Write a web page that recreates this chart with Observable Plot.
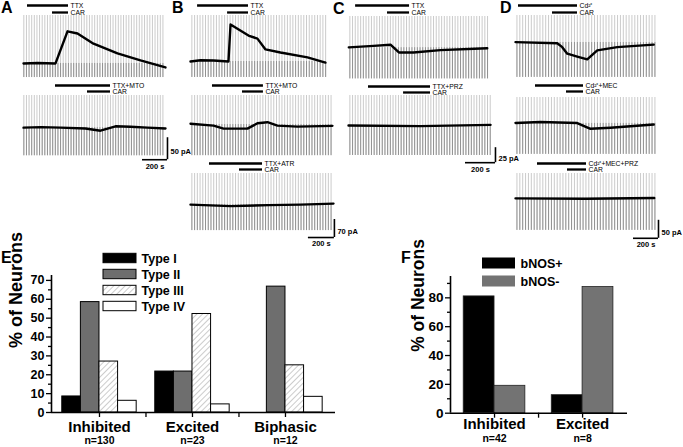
<!DOCTYPE html>
<html><head><meta charset="utf-8">
<script src="https://cdn.jsdelivr.net/npm/d3@7"></script>
<script src="https://cdn.jsdelivr.net/npm/@observablehq/plot@0.6"></script>
<style>
body{margin:0;background:#fff;}
#fig{position:relative;width:683px;height:447px;overflow:hidden;font-family:"Liberation Sans",Arial,sans-serif;background:#fff;}
.lbl{position:absolute;font-weight:bold;font-size:16px;line-height:16px;}
#fig svg text{font-family:"Liberation Sans",Arial,sans-serif;}
svg.boldtxt text{font-weight:bold;}
</style></head><body>
<div id="fig">
<svg width="0" height="0" style="position:absolute"><defs>
<pattern id="hatch" patternUnits="userSpaceOnUse" width="4" height="4" patternTransform="rotate(45)">
<rect width="4" height="4" fill="#fff"/><line x1="0" y1="0" x2="0" y2="4" stroke="#9a9a9a" stroke-width="1"/>
</pattern></defs></svg>
<div class="lbl" style="left:1px;top:0px">A</div>
<div class="lbl" style="left:172px;top:0px">B</div>
<div class="lbl" style="left:333px;top:1px">C</div>
<div class="lbl" style="left:500px;top:0px">D</div>
<div class="lbl" style="left:1px;top:250px">E</div>
<div class="lbl" style="left:401px;top:250px">F</div>
</div>
<script>
// ---------- Trace data (time s, current pA relative to baseline) ----------
const traceA1 = [[8,0],[120,1],[264,0],[360,73],[440,68],[568,45],[760,23],[944,7],[1144,-9]];
const traceA2 = [[8,0],[150,1],[304,0],[504,-2],[624,-7],[744,3],[864,2],[1000,0],[1144,-2]];
const traceB1 = [[0,0],[77,5],[177,4],[292,0],[308,144],[446,101],[515,89],[577,47],[692,35],[900,16],[1038,-4]];
const traceB2 = [[0,3],[177,-4],[254,-16],[438,-16],[515,5],[592,9],[669,-4],[823,-8],[1092,-5]];
const traceB3 = [[0,0],[308,-6],[600,-2],[846,0],[1100,4]];
const traceC1 = [[2,0.5],[167,3],[280,5],[336,-8],[433,-8],[613,-4],[925,-1]];
const traceC2 = [[0,0],[480,-1],[947,1]];
const traceD1 = [[0,1],[334,-2],[374,-13],[414,-31],[494,-39],[574,-47],[654,-22],[814,-13],[1106,-6]];
const traceD2 = [[0,1],[200,4],[494,1],[600,-15],[760,-12],[1106,-3]];
const traceD3 = [[0,0],[560,-1],[1110,1]];

// drug application bars: [label, start s, end s]
const drugsA1 = [["TTX",40,368],["CAR",240,368]];
const drugsA2 = [["TTX+MTO",264,704],["CAR",520,704]];
const drugsB1 = [["TTX",54,446],["CAR",285,446]];
const drugsB2 = [["TTX+MTO",169,561],["CAR",400,561]];
const drugsB3 = [["TTX+ATR",146,554],["CAR",377,554]];
const drugsC1 = [["TTX",47,407],["CAR",260,407]];
const drugsC2 = [["TTX+PRZ",133,547],["CAR",367,547]];
const drugsD1 = [["Cd²⁺",24,496],["CAR",296,496]];
const drugsD2 = [["Cd²⁺+MEC",160,544],["CAR",408,544]];
const drugsD3 = [["Cd²⁺+MEC+PRZ",176,568],["CAR",416,568]];

// pulse period (s) of the regular current deflections
const pulsePeriod = {A:21, B:21, C:18, D:23};
// scale bars: time 200 s, current in pA
const scaleBars = [
  {panel:"A", dt:200, dpA:50},
  {panel:"B", dt:200, dpA:70},
  {panel:"C", dt:200, dpA:25},
  {panel:"D", dt:200, dpA:50}
];

// ---------- Bar chart data ----------
const groupsE = ["Inhibited","Excited","Biphasic"];
const nE = ["n=130","n=23","n=12"];
const typesE = ["Type I","Type II","Type III","Type IV"];
const typeI = [8.5, 21.7, 0];
const typeII = [58.5, 21.7, 66.7];
const typeIII = [27, 52.2, 25];
const typeIV = [6.2, 4.3, 8.3];
const yTicksE = [0,10,20,30,40,50,60,70];

const groupsF = ["Inhibited","Excited"];
const nF = ["n=42","n=8"];
const seriesF = ["bNOS+","bNOS-"];
const bNOSpos = [81, 12.5];
const bNOSneg = [19, 87.5];
const yTicksF = [0,20,40,60,80];

// ---------- layout (page pixels) ----------
const pxPer = { // seconds per px, pA per px
  A:{s:200/25, pA:50/22}, B:{s:200/26, pA:70/18}, C:{s:200/30, pA:25/15}, D:{s:200/25, pA:50/18}
};
const traces = [
  {panel:"A", data:traceA1, drugs:drugsA1, left:22, top:15, T:1144, pA:[-32,109], barY:5, barGap:7},
  {panel:"A", data:traceA2, drugs:drugsA2, left:22, top:95, T:1144, pA:[-64,73], barY:85, barGap:6, sb:{t:1160,pA:-73}},
  {panel:"B", data:traceB1, drugs:drugsB1, left:190, top:15, T:1054, pA:[-62,179], barY:5, barGap:7},
  {panel:"B", data:traceB2, drugs:drugsB2, left:190, top:95, T:1100, pA:[-121,113], barY:85, barGap:6},
  {panel:"B", data:traceB3, drugs:drugsB3, left:190, top:173, T:1100, pA:[-101,121], barY:163, barGap:6, sb:{t:1107,pA:-128}},
  {panel:"C", data:traceC1, drugs:drugsC1, left:348, top:16, T:933, pA:[-52,52], barY:5, barGap:7},
  {panel:"C", data:traceC2, drugs:drugsC2, left:348, top:95, T:947, pA:[-50,50], barY:86, barGap:6, sb:{t:980,pA:-62}},
  {panel:"D", data:traceD1, drugs:drugsD1, left:515, top:15, T:1120, pA:[-97,75], barY:5, barGap:7},
  {panel:"D", data:traceD2, drugs:drugsD2, left:515, top:97, T:1120, pA:[-86,72], barY:85, barGap:6},
  {panel:"D", data:traceD3, drugs:drugsD3, left:515, top:173, T:1120, pA:[-89,69], barY:163, barGap:6, sb:{t:1144,pA:-111}}
];

const fig = document.getElementById("fig");
const FONT = '"Liberation Sans", Arial, sans-serif';
function place(svg, left, top, bold){
  svg.style.position = "absolute";
  svg.style.left = left + "px";
  svg.style.top = top + "px";
  svg.style.background = "transparent";
  svg.style.overflow = "visible";
  svg.style.maxWidth = "none";
  svg.style.fontFamily = FONT;
  if (bold) svg.classList.add("boldtxt");
  fig.appendChild(svg);
}

for (const tr of traces) {
  const k = pxPer[tr.panel];
  const W = tr.T / k.s, H = (tr.pA[1] - tr.pA[0]) / k.pA;
  const pulses = d3.range(pulsePeriod[tr.panel] / 2, tr.T, pulsePeriod[tr.panel]);
  const marks = [
    Plot.ruleX(pulses, {x: d => d, stroke: "#b9b9b9", strokeWidth: 0.75}),
    Plot.ruleX(pulses, {x: d => d, y1: tr.pA[0], y2: 0, stroke: "#7d7d7d", strokeWidth: 0.75}),
    Plot.line(tr.data, {x: d => d[0], y: d => d[1], stroke: "#000", strokeWidth: 2.4})
  ];
  if (tr.sb) {
    const sb = Object.assign({}, scaleBars.find(s => s.panel === tr.panel), tr.sb);
    marks.push(
      Plot.ruleX([sb], {x: "t", y1: "pA", y2: d => d.pA + d.dpA, stroke: "#000", strokeWidth: 1.6}),
      Plot.ruleY([sb], {y: "pA", x1: d => d.t - d.dt, x2: "t", stroke: "#000", strokeWidth: 1.6}),
      Plot.text([sb], {x: "t", y: d => d.pA + d.dpA / 2, text: d => d.dpA + " pA", dx: 3, dy: 3, textAnchor: "start", fontSize: 7.5, fontWeight: "bold", fontFamily: FONT}),
      Plot.text([sb], {x: d => d.t - d.dt / 2, y: "pA", text: d => d.dt + " s", dy: 6.5, fontSize: 7.5, fontWeight: "bold", fontFamily: FONT})
    );
  }
  const svg = Plot.plot({
    width: W, height: H, margin: 0,
    x: {domain: [0, tr.T], axis: null},
    y: {domain: tr.pA, axis: null},
    marks
  });
  place(svg, tr.left, tr.top);

  // drug bars
  const bar = Plot.plot({
    width: W, height: tr.barGap + 8, marginTop: 4, marginBottom: 4, marginLeft: 0, marginRight: 0,
    x: {domain: [0, tr.T], axis: null},
    y: {type: "point", domain: tr.drugs.map(d => d[0]), padding: 0, axis: null},
    marks: [
      Plot.ruleY(tr.drugs, {y: d => d[0], x1: d => d[1], x2: d => d[2], stroke: "#000", strokeWidth: 2.3}),
      Plot.text(tr.drugs, {y: d => d[0], x: d => d[2], text: d => d[0], dx: 2, textAnchor: "start", fontSize: 6.8, fill: "#000", fontFamily: FONT})
    ]
  });
  place(bar, tr.left, tr.barY - 4);
}

// ---------- Panel E ----------
const fillsE = ["#000000", "#6e6e6e", "url(#hatch)", "#ffffff"];
const valsE = [typeI, typeII, typeIII, typeIV];
const rowsE = [];
groupsE.forEach((g, gi) => typesE.forEach((t, ti) => rowsE.push({group: g, gi, type: t, ti, v: valsE[ti][gi]})));
const xDomE = [-0.516, 2.538];
const bwE = 0.2;
const minorE = [5,15,25,35,45,55,65];
const plotE = Plot.plot({
  width: 340, height: 197, marginLeft: 51, marginRight: 5, marginTop: 25, marginBottom: 35,
  x: {domain: xDomE},
  y: {domain: [0, 72.6]},
  color: {domain: typesE, range: fillsE},
  marks: [
    Plot.rectY(rowsE.filter(d => d.v > 0), {x1: d => d.gi - 2 * bwE + d.ti * bwE, x2: d => d.gi - bwE + d.ti * bwE, y: "v", fill: "type", stroke: "#000", strokeWidth: 1}),
    Plot.axisY({ticks: yTicksE, tickSize: 5, tickPadding: 2, fontSize: 12.5, fontFamily: FONT, label: null, strokeWidth: 1.3}),
    Plot.axisY({ticks: minorE, tickSize: 3, tickFormat: () => "", label: null, strokeWidth: 1.3}),
    Plot.axisX({ticks: [0, 0.5, 1, 1.5, 2], tickSize: 5, tickFormat: () => "", label: null, strokeWidth: 1.3}),
    Plot.ruleX([xDomE[0]], {stroke: "#000", strokeWidth: 1.6}),
    Plot.ruleY([0], {stroke: "#000", strokeWidth: 1.6}),
    Plot.text(groupsE, {x: (d, i) => i, text: d => d, frameAnchor: "bottom", dy: 19, fontSize: 15, fontFamily: FONT}),
    Plot.text(nE, {x: (d, i) => i, text: d => d, frameAnchor: "bottom", dy: 31.5, fontSize: 10.5, fontFamily: FONT}),
    Plot.text(["% of Neurons"], {text: d => d, frameAnchor: "left", rotate: -90, dx: -35, dy: 4, fontSize: 18, fontFamily: FONT})
  ]
});
place(plotE, 0, 250, true);

const legE = Plot.plot({
  width: 100, height: 68, margin: 0,
  x: {type: "band", domain: ["sw"], range: [3, 36], padding: 0, axis: null},
  y: {type: "band", domain: typesE, range: [0.5, 67], padding: 0, axis: null},
  color: {domain: typesE, range: fillsE},
  marks: [
    Plot.cell(typesE, {x: () => "sw", y: d => d, fill: d => d, stroke: "#000", strokeWidth: 1, insetTop: 3.3, insetBottom: 3.3}),
    Plot.text(typesE, {x: () => "sw", y: d => d, text: d => d, dx: 21.5, textAnchor: "start", fontSize: 12.5, fontFamily: FONT})
  ]
});
place(legE, 100, 248, true);

// ---------- Panel F ----------
const fillsF = ["#000000", "#737373"];
const valsF = [bNOSpos, bNOSneg];
const rowsF = [];
groupsF.forEach((g, gi) => seriesF.forEach((s, si) => rowsF.push({group: g, gi, s, si, v: valsF[si][gi]})));
const xDomF = [-0.5, 1.51];
const bwF = 0.35;
const minorF = [10,30,50,70,90];
const plotF = Plot.plot({
  width: 283, height: 197, marginLeft: 50, marginRight: 56, marginTop: 26, marginBottom: 34.3,
  x: {domain: xDomF},
  y: {domain: [0, 94.8]},
  color: {domain: seriesF, range: fillsF},
  marks: [
    Plot.rectY(rowsF, {x1: d => d.gi - bwF + d.si * bwF, x2: d => d.gi + d.si * bwF, y: "v", fill: "s", stroke: "#222", strokeWidth: 0.8}),
    Plot.axisY({ticks: yTicksF, tickSize: 5, tickPadding: 2, fontSize: 13.5, fontFamily: FONT, label: null, strokeWidth: 1.3}),
    Plot.axisY({ticks: minorF, tickSize: 3, tickFormat: () => "", label: null, strokeWidth: 1.3}),
    Plot.axisX({ticks: [0, 0.5, 1], tickSize: 5, tickFormat: () => "", label: null, strokeWidth: 1.3}),
    Plot.ruleX([xDomF[0]], {stroke: "#000", strokeWidth: 1.6}),
    Plot.ruleY([0], {stroke: "#000", strokeWidth: 1.6}),
    Plot.text(groupsF, {x: (d, i) => i, text: d => d, frameAnchor: "bottom", dy: 15.5, fontSize: 15, fontFamily: FONT}),
    Plot.text(nF, {x: (d, i) => i, text: d => d, frameAnchor: "bottom", dy: 28.5, fontSize: 10.5, fontFamily: FONT}),
    Plot.text(["% of Neurons"], {text: d => d, frameAnchor: "left", rotate: -90, dx: -32, dy: 7, fontSize: 17.5, fontFamily: FONT})
  ]
});
place(plotF, 400, 250, true);

const legF = Plot.plot({
  width: 90, height: 40, margin: 0,
  x: {type: "band", domain: ["sw"], range: [4, 37], padding: 0, axis: null},
  y: {type: "band", domain: seriesF, range: [1.5, 37.5], padding: 0, axis: null},
  color: {domain: seriesF, range: fillsF},
  marks: [
    Plot.cell(seriesF, {x: () => "sw", y: d => d, fill: d => d, insetTop: 3.5, insetBottom: 3.5}),
    Plot.text(seriesF, {x: () => "sw", y: d => d, text: d => d, dx: 21.5, textAnchor: "start", fontSize: 12.5, fontFamily: FONT})
  ]
});
place(legF, 478, 252, true);
</script>
</body></html>
